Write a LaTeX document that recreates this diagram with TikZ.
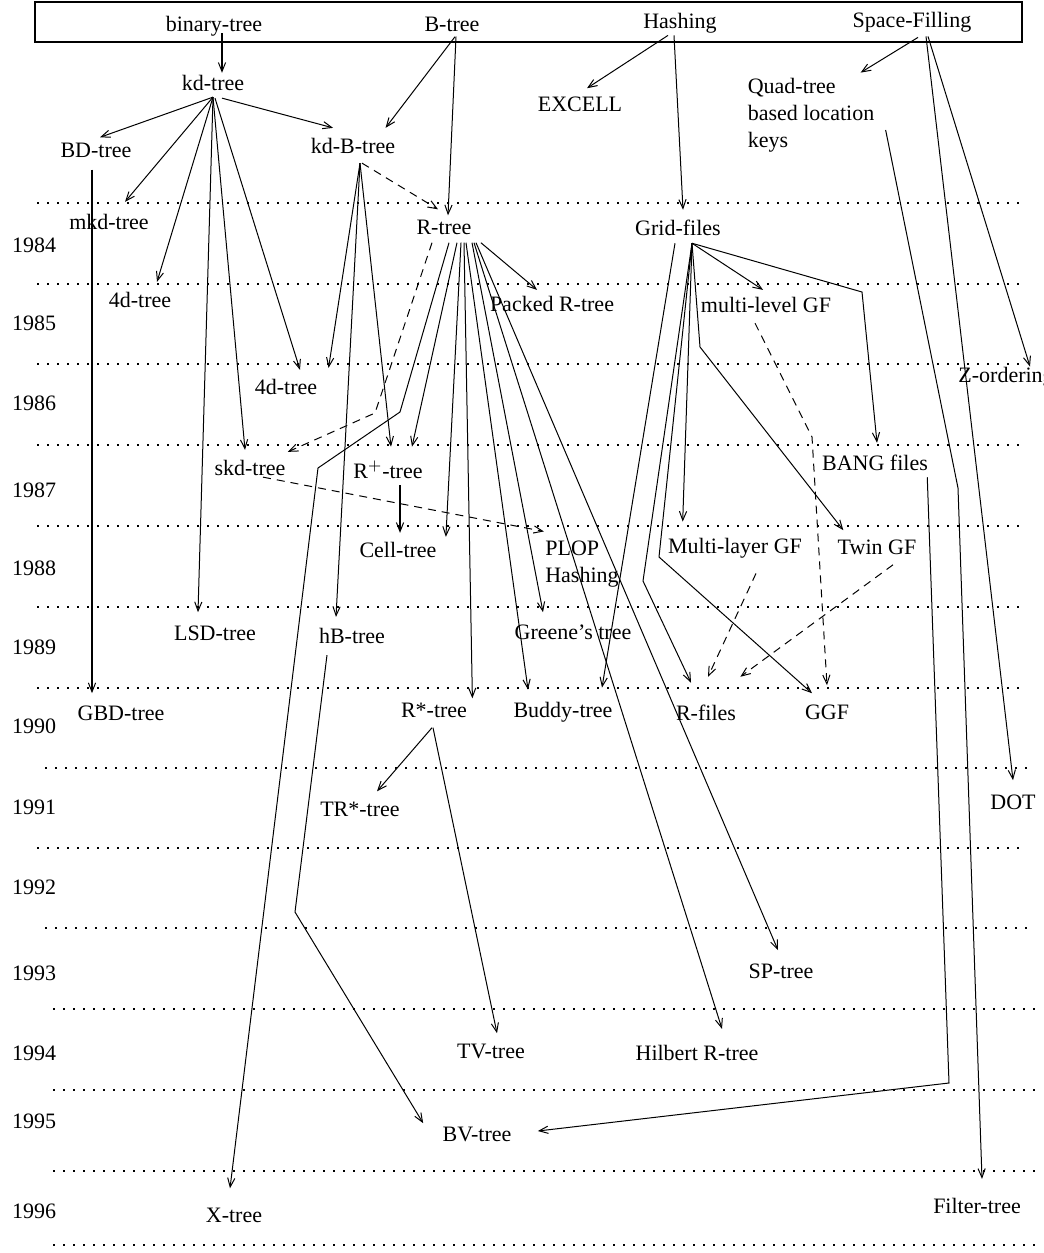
\documentclass[tikz,border=0pt]{standalone}
\usepackage{fontspec}
\setmainfont{Liberation Serif}
\usetikzlibrary{arrows.meta}

\begin{document}
\begin{tikzpicture}[
    x=0.5pt, y=-0.5pt,
    % Label styles
    lbl/.style={inner sep=1.5pt, font=\fontsize{11}{13.5}\selectfont},
    lbl-multi/.style={lbl, align=left},
    year/.style={inner sep=1.5pt, font=\fontsize{11}{13.5}\selectfont},
    % Line styles
    link/.style={draw, line width=0.5pt,
      -{Straight Barb[length=4.5pt, width=3.6pt, line width=0.5pt]}},
    link-dashed/.style={link, dash pattern=on 4pt off 3pt},
    link-thick/.style={link, line width=1.1pt},
    yearline/.style={draw, line width=1pt, dash pattern=on 1pt off 4pt},
  ]
  \useasboundingbox (0,0) rectangle (1044,1253);

  % === Year grid ===
  \foreach \y/\xa/\xb in {203/37/1020, 284/37/1020, 364/37/1020, 445/37/1020,
      526/37/1020, 607/37/1020, 688/37/1024, 768/45/1028, 848/37/1020,
      928/45/1028, 1009/53/1035, 1090/53/1035, 1171/53/1035, 1245/53/1035}
    \draw[yearline] (\xa,\y) -- (\xb,\y);
  \foreach \yr/\y in {1984/245, 1985/323, 1986/403, 1987/490, 1988/568,
      1989/647, 1990/726, 1991/807, 1992/887, 1993/973, 1994/1053,
      1995/1121, 1996/1211}
    \node[year] (y\yr) at (34,\y) {\yr};

  % === Category bar ===
  \draw[line width=1.1pt] (35,2) rectangle (1022,42);
  \node[lbl] (bin) at (214,26) {binary-tree};
  \node[lbl] (btree) at (452,24) {B-tree};
  \node[lbl] (hash) at (680,23) {Hashing};
  \node[lbl] (space) at (912,22) {Space-Filling};

  % === Structures ===
  \node[lbl] (kd) at (213,83) {kd-tree};
  \node[lbl] (bd) at (96,150) {BD-tree};
  \node[lbl] (kdb) at (353,146) {kd-B-tree};
  \node[lbl] (excell) at (580,104) {EXCELL};
  \node[lbl-multi] (quad) at (811,115) {Quad-tree\\based location\\keys};
  \node[lbl] (mkd) at (109,222) {mkd-tree};
  \node[lbl] (rtree) at (444,227) {R-tree};
  \node[lbl] (grid) at (678,228) {Grid-files};
  \node[lbl] (fourda) at (140,300) {4d-tree};
  \node[lbl] (packed) at (552,304) {Packed R-tree};
  \node[lbl] (mlevel) at (766,305) {multi-level GF};
  \node[lbl] (fourdb) at (286,387) {4d-tree};
  \node[lbl, anchor=west] (zord) at (955,377) {Z-ordering};
  \node[lbl] (skd) at (250,468) {skd-tree};
  \node[lbl] (rplus) at (388,470) {R$^+$-tree};
  \node[lbl] (bang) at (875,463) {BANG files};
  \node[lbl] (cell) at (398,550) {Cell-tree};
  \node[lbl-multi] (plop) at (582,564) {PLOP\\Hashing};
  \node[lbl] (mlayer) at (735,548) {Multi-layer GF};
  \node[lbl] (twin) at (877,547) {Twin GF};
  \node[lbl] (lsd) at (215,633) {LSD-tree};
  \node[lbl] (hb) at (352,636) {hB-tree};
  \node[lbl] (greene) at (573,632) {Greene's tree};
  \node[lbl] (gbd) at (121,713) {GBD-tree};
  \node[lbl] (rstar) at (434,710) {R*-tree};
  \node[lbl] (buddy) at (563,712) {Buddy-tree};
  \node[lbl] (rfiles) at (706,713) {R-files};
  \node[lbl] (ggf) at (827,712) {GGF};
  \node[lbl] (trstar) at (360,809) {TR*-tree};
  \node[lbl] (dot) at (1013,802) {DOT};
  \node[lbl] (sp) at (781,971) {SP-tree};
  \node[lbl] (tv) at (491,1051) {TV-tree};
  \node[lbl] (hilbert) at (697,1053) {Hilbert R-tree};
  \node[lbl] (bv) at (477,1134) {BV-tree};
  \node[lbl] (xtree) at (234,1215) {X-tree};
  \node[lbl] (filter) at (977,1206) {Filter-tree};

  % Bends of the routed links
  \coordinate (quadBend) at (958,488);
  \coordinate (xBendA) at (400,412);
  \coordinate (xBendB) at (318,468);
  \coordinate (skdBend) at (375,413);
  \coordinate (hbBend) at (295,912);
  \coordinate (rfBend) at (643,581);
  \coordinate (ggfBend) at (659,557);
  \coordinate (bangBend) at (862,292);
  \coordinate (twinBend) at (700,347);
  \coordinate (mlBend) at (812,437);
  \coordinate (bvBend) at (949,1083);

  % === Links from the categories ===
  \draw[link-thick] ([shift={(8,-6)}]bin.south) -- ([shift={(9,1)}]kd.north);
  \draw[link] ([shift={(3,2)}]btree.south) -- ([shift={(-13,-7)}]kdb.north east);
  \draw[link] ([shift={(4,2)}]btree.south) -- ([shift={(4,-1)}]rtree.north);
  \draw[link] ([shift={(-12,-1)}]hash.south) -- ([shift={(7,-5)}]excell.north);
  \draw[link] ([shift={(-6,-1)}]hash.south) -- ([shift={(5,-7)}]grid.north);
  \draw[link] ([shift={(6,2)}]space.south) -- ([shift={(-17,-2)}]quad.north east);
  \draw[link] ([shift={(14,1)}]space.south) -- ([shift={(0,-11)}]dot.north);
  \draw[link] ([shift={(16,1)}]space.south) -- ([shift={(75,3)}]zord.north west);
  \draw[link] ([shift={(8,15)}]quad.east) -- (quadBend) -- ([shift={(5,-16)}]filter.north);

  % === kd-tree family ===
  \draw[link] ([shift={(0,3)}]kd.south) -- ([shift={(4,-2)}]bd.north);
  \draw[link] ([shift={(0,3)}]kd.south) -- ([shift={(16,-9)}]mkd.north);
  \draw[link] ([shift={(0,3)}]kd.south) -- ([shift={(17,-7)}]fourda.north);
  \draw[link] ([shift={(0,3)}]kd.south) -- ([shift={(-17,-10)}]lsd.north);
  \draw[link] ([shift={(0,3)}]kd.south) -- ([shift={(-5,-7)}]skd.north);
  \draw[link] ([shift={(2,4)}]kd.south) -- ([shift={(14,-6)}]fourdb.north);
  \draw[link] ([shift={(9,4)}]kd.south) -- ([shift={(-20,-7)}]kdb.north);
  \draw[link-thick] ([shift={(-4,9)}]bd.south) -- ([shift={(-29,-9)}]gbd.north);

  % === kd-B-tree family ===
  \draw[link] ([shift={(7,6)}]kdb.south) -- ([shift={(8,-8)}]fourdb.north east);
  \draw[link] ([shift={(7,6)}]kdb.south) -- ([shift={(3,-11)}]rplus.north);
  \draw[link] ([shift={(7,6)}]kdb.south) -- ([shift={(-16,-8)}]hb.north);
  \draw[link-dashed] ([shift={(9,6)}]kdb.south) -- ([shift={(-6,-7)}]rtree.north);
  \draw[link] ([shift={(-25,8)}]hb.south) -- (hbBend) -- ([shift={(-16,0)}]bv.north west);

  % === R-tree family ===
  \draw[link] ([shift={(6,5)}]rtree.south east) -- ([shift={(-15,-3)}]packed.north);
  \draw[link] ([shift={(13,5)}]rtree.south) -- ([shift={(-14,-11)}]rplus.north east);
  \draw[link] ([shift={(17,5)}]rtree.south) -- ([shift={(6,-2)}]cell.north east);
  \draw[link] ([shift={(20,5)}]rtree.south) -- ([shift={(2,-1)}]rstar.north east);
  \draw[link] ([shift={(22,5)}]rtree.south) -- ([shift={(-35,-9)}]buddy.north);
  \draw[link] ([shift={(28,5)}]rtree.south) -- ([shift={(-30,-9)}]greene.north);
  \draw[link] ([shift={(30,5)}]rtree.south) -- ([shift={(25,-13)}]hilbert.north);
  \draw[link] ([shift={(32,5)}]rtree.south) -- ([shift={(-3,-10)}]sp.north);
  \draw[link] ([shift={(5,5)}]rtree.south) -- (xBendA) -- (xBendB) -- ([shift={(-4,-16)}]xtree.north);
  \draw[link-dashed] ([shift={(-12,5)}]rtree.south) -- (skdBend) -- ([shift={(-1,-5)}]skd.north east);
  \draw[link-thick] ([shift={(12,3)}]rplus.south) -- ([shift={(2,-6)}]cell.north);
  \draw[link-dashed] ([shift={(13,-2)}]skd.south) -- ([shift={(2,-6)}]plop.north west);
  \draw[link] ([shift={(-2,7)}]rstar.south) -- ([shift={(17,-7)}]trstar.north);
  \draw[link] ([shift={(-1,7)}]rstar.south) -- ([shift={(6,-7)}]tv.north);

  % === Grid-file family ===
  \draw[link] ([shift={(-3,4)}]grid.south) -- ([shift={(39,-11)}]buddy.north);
  \draw[link] ([shift={(14,4)}]grid.south) -- (rfBend) -- ([shift={(-15,-19)}]rfiles.north);
  \draw[link] ([shift={(14,4)}]grid.south) -- (ggfBend) -- ([shift={(-15,-8)}]ggf.north);
  \draw[link] ([shift={(14,4)}]grid.south) -- ([shift={(18,-13)}]mlayer.north west);
  \draw[link] ([shift={(14,4)}]grid.south) -- ([shift={(-3,-4)}]mlevel.north);
  \draw[link] ([shift={(14,4)}]grid.south) -- (bangBend) -- ([shift={(2,-9)}]bang.north);
  \draw[link] ([shift={(14,4)}]grid.south) -- (twinBend) -- ([shift={(9,-6)}]twin.north west);
  \draw[link-dashed] ([shift={(-11,7)}]mlevel.south) -- (mlBend) -- ([shift={(0,-16)}]ggf.north);
  \draw[link-dashed] ([shift={(21,12)}]mlayer.south) -- ([shift={(2,-25)}]rfiles.north);
  \draw[link-dashed] ([shift={(16,7)}]twin.south) -- ([shift={(1,-25)}]rfiles.north east);
  \draw[link] ([shift={(-4,3)}]bang.south east) -- (bvBend) -- ([shift={(23,-3)}]bv.east);

\end{tikzpicture}
\end{document}
